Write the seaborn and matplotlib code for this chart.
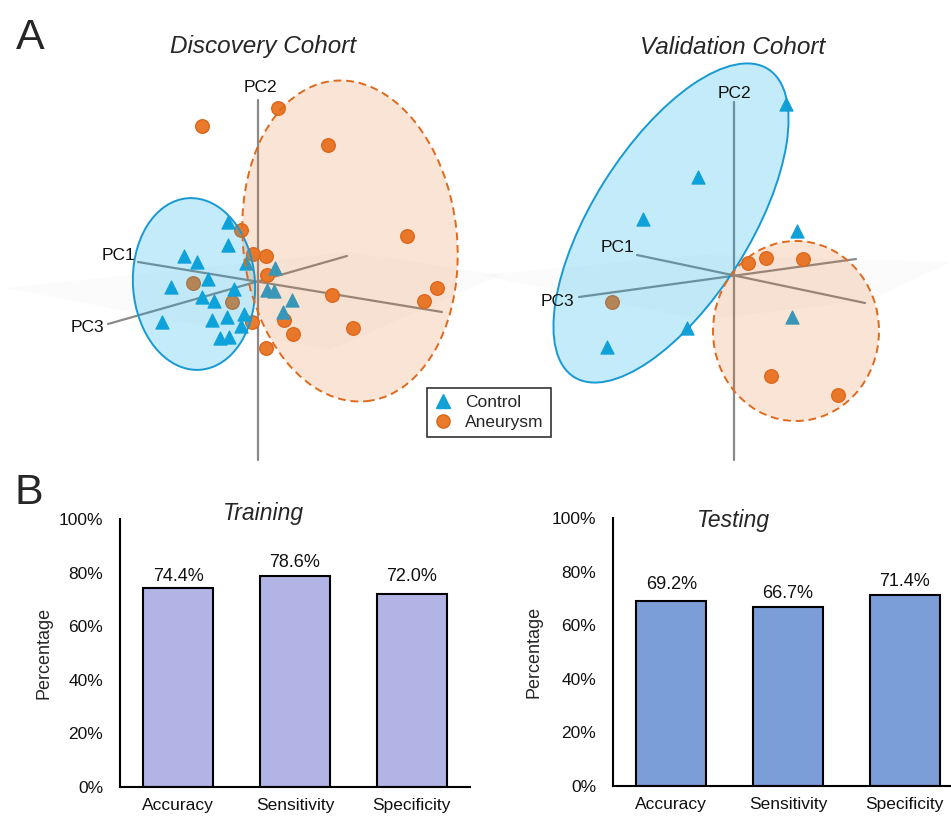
import numpy as np
import pandas as pd
import matplotlib
matplotlib.use("Agg")
import matplotlib.pyplot as plt
from matplotlib.patches import Ellipse, Polygon
from matplotlib.lines import Line2D
from matplotlib.ticker import FuncFormatter
import seaborn as sns

# ---------------- data ----------------
# PCA scores projected onto the view plane (origin = crossing of the PC axes)
disc_ctrl_x = [-30, -30, -74, -61, -12, 17, -50, -87, -24, -56, -44, 9, 16, 34, 25, -14, -96, -46, -31, -17, -38, -29]
disc_ctrl_y = [60, 37, 26, 20, 19, 14, 3, -5, -7, -15, -19, -8, -9, -18, -30, -32, -40, -38, -35, -44, -56, -55]
disc_aneu_x = [-56, 20, 70, 149, -17, -5, 8, 9, 74, 179, 166, 95, 26, 35, -6, 8, -65, -26]
disc_aneu_y = [156, 174, 137, 46, 52, 28, 26, 7, -13, -6, -19, -46, -38, -52, -40, -66, -1, -20]

val_ctrl_x = [52, -36, -91, 63, -47, -127, 58]
val_ctrl_y = [172, 99, 57, 45, -52, -71, -41]
val_aneu_x = [14, 32, 69, 37, 104, -122]
val_aneu_y = [13, 18, 17, -100, -119, -26]

# confidence ellipses: centre x, centre y, width, height, angle
disc_ctrl_ell = [-64, -2, 122, 172, 4]
disc_aneu_ell = [92, 41, 214, 322, 6]
val_ctrl_ell = [-63, 53, 364, 157, 57.8]
val_aneu_ell = [62, -55, 166, 180, 0]

metrics = ["Accuracy", "Sensitivity", "Specificity"]
training = [74.4, 78.6, 72.0]
testing = [69.2, 66.7, 71.4]
yticks = [0, 20, 40, 60, 80, 100]

# ---------------- style ----------------
sns.set_style("white")
plt.rcParams["font.family"] = ["Liberation Sans", "DejaVu Sans"]

W, H = 951, 819
fig = plt.figure(figsize=(W / 100, H / 100), dpi=100)


def fx(px):
    return px / W


def fy(py):
    return 1 - py / H


BLUE = "#12a0d8"
BLUE_FILL = "#04aae6"
ORANGE = "#ea7a2c"
ORANGE_EDGE = "#d9661c"
ORANGE_FILL = "#e86e1e"
AXIS_GREY = "#8a8a8a"


def pca_panel(rect, xlim, ylim, ctrl, aneu, ell_c, ell_a, pc_lines, pc_labels, plane):
    ax = fig.add_axes(rect)
    ax.set_xlim(*xlim)
    ax.set_ylim(*ylim)
    ax.axis("off")

    # faint PC1/PC3 plane
    ax.add_patch(Polygon(plane, closed=True, facecolor="#d8d8d8", alpha=0.09,
                         edgecolor="none", zorder=0, clip_on=False))
    for (x0, y0, x1, y1) in pc_lines:
        ax.plot([x0, x1], [y0, y1], color=AXIS_GREY, lw=1.6, zorder=1)
    for (tx, ty, s) in pc_labels:
        ax.text(tx, ty, s, ha="center", va="center", fontsize=12.5, color="#111111", zorder=6)

    df_c = pd.DataFrame({"pc_x": ctrl[0], "pc_y": ctrl[1]})
    df_a = pd.DataFrame({"pc_x": aneu[0], "pc_y": aneu[1]})
    sns.scatterplot(data=df_a, x="pc_x", y="pc_y", marker="o", s=95, color=ORANGE,
                    edgecolor=ORANGE_EDGE, linewidth=1.0, ax=ax, zorder=2, legend=False)
    sns.scatterplot(data=df_c, x="pc_x", y="pc_y", marker="^", s=90, color=BLUE,
                    edgecolor=BLUE, linewidth=0.8, ax=ax, zorder=2, legend=False)

    cx, cy, w, h, a = ell_c
    ax.add_patch(Ellipse((cx, cy), w, h, angle=a, facecolor=BLUE_FILL, alpha=0.23,
                         edgecolor="none", zorder=3))
    ax.add_patch(Ellipse((cx, cy), w, h, angle=a, facecolor="none",
                         edgecolor="#1799d4", lw=1.4, zorder=4))
    cx, cy, w, h, a = ell_a
    ax.add_patch(Ellipse((cx, cy), w, h, angle=a, facecolor=ORANGE_FILL, alpha=0.18,
                         edgecolor="none", zorder=3))
    ax.add_patch(Ellipse((cx, cy), w, h, angle=a, facecolor="none",
                         edgecolor="#df6a1c", lw=1.4, ls=(0, (4, 2.5)), zorder=4))
    ax.set_xlabel("")
    ax.set_ylabel("")
    return ax


# Discovery cohort: axes spans px x 0..490, y 60..465, origin at (258, 282)
pca_panel(
    [0, fy(465), fx(490), 405 / H], (-258, 232), (-183, 222),
    (disc_ctrl_x, disc_ctrl_y), (disc_aneu_x, disc_aneu_y),
    disc_ctrl_ell, disc_aneu_ell,
    pc_lines=[(0, 182, 0, -178), (-120, 20, 184, -30), (-150, -42, 89, 26)],
    pc_labels=[(2, 195, "PC2"), (-140, 27, "PC1"), (-171, -46, "PC3")],
    plane=[(-253, -6), (92, 30), (242, 7), (72, -68)],
)

# Validation cohort: axes spans px x 490..951, y 55..465, origin at (734, 276)
pca_panel(
    [fx(490), fy(465), 461 / W, 410 / H], (-244, 217), (-189, 221),
    (val_ctrl_x, val_ctrl_y), (val_aneu_x, val_aneu_y),
    val_ctrl_ell, val_aneu_ell,
    pc_lines=[(0, 174, 0, -184), (-97, 21, 131, -27), (-155, -21, 122, 17)],
    pc_labels=[(0, 183, "PC2"), (-116, 29, "PC1"), (-177, -26, "PC3")],
    plane=[(-254, 1), (-30, 21), (217, 14), (136, -24), (-30, -44)],
)

fig.text(fx(263), fy(47), "Discovery Cohort", ha="center", va="center",
         fontsize=17.5, style="italic")
fig.text(fx(733), fy(47), "Validation Cohort", ha="center", va="center",
         fontsize=17.5, style="italic")
fig.text(fx(30), fy(38), "A", ha="center", va="center", fontsize=31)
fig.text(fx(29), fy(493), "B", ha="center", va="center", fontsize=31)

handles = [
    Line2D([], [], marker="^", ls="none", color=BLUE, markersize=9.5, label="Control"),
    Line2D([], [], marker="o", ls="none", color=ORANGE, markeredgecolor=ORANGE_EDGE,
           markersize=9.5, label="Aneurysm"),
]
leg = fig.legend(handles=handles, loc="upper left", bbox_to_anchor=(fx(427), fy(388)),
                 frameon=True, fancybox=False, fontsize=12.5, handlelength=1.0,
                 handletextpad=0.8, borderpad=0.4, labelspacing=0.25, borderaxespad=0)
leg.get_frame().set_edgecolor("black")
leg.get_frame().set_linewidth(1.2)


# ---------------- bar panels ----------------
def bar_panel(rect, values, color, title, title_xy, label_off, ylabel_x):
    ax = fig.add_axes(rect)
    df = pd.DataFrame({"metric": metrics, "value": values})
    sns.barplot(data=df, x="metric", y="value", color=color, saturation=1,
                edgecolor="black", linewidth=1.5, width=0.6, ax=ax)
    ax.set_xlim(-0.5, 2.5)
    ax.set_ylim(0, 100)
    ax.set_yticks(yticks)
    ax.yaxis.set_major_formatter(FuncFormatter(lambda v, p: f"{v:.0f}%"))
    ax.tick_params(axis="both", length=0, labelsize=12.5, colors="#111111")
    ax.tick_params(axis="y", pad=12)
    ax.tick_params(axis="x", pad=8)
    for sp in ["top", "right"]:
        ax.spines[sp].set_visible(False)
    for sp in ["left", "bottom"]:
        ax.spines[sp].set_color("black")
        ax.spines[sp].set_linewidth(1.5)
    ax.set_xlabel("")
    ax.set_ylabel("Percentage", fontsize=13)
    ax.yaxis.set_label_coords(ylabel_x, 0.5)
    for i, (v, off) in enumerate(zip(values, label_off)):
        ax.annotate(f"{v:.1f}%", (i, v), xytext=(0, off * 0.72), textcoords="offset points",
                    ha="center", va="center", fontsize=13, color="#111111")
    ax.text(title_xy[0], title_xy[1], title, transform=ax.transAxes, ha="center",
            va="center", fontsize=16.5, style="italic")
    return ax


bar_panel([fx(120), fy(787), 350 / W, 268 / H], training, "#b3b4e6", "Training",
          (0.409, 1.022), [11, 14, 18], -0.194)
bar_panel([fx(613), fy(786), 350 / W, 268 / H], testing, "#7b9dd8", "Testing",
          (0.343, 0.989), [16, 14, 13], -0.2)

fig.savefig("out.png", dpi=100)
